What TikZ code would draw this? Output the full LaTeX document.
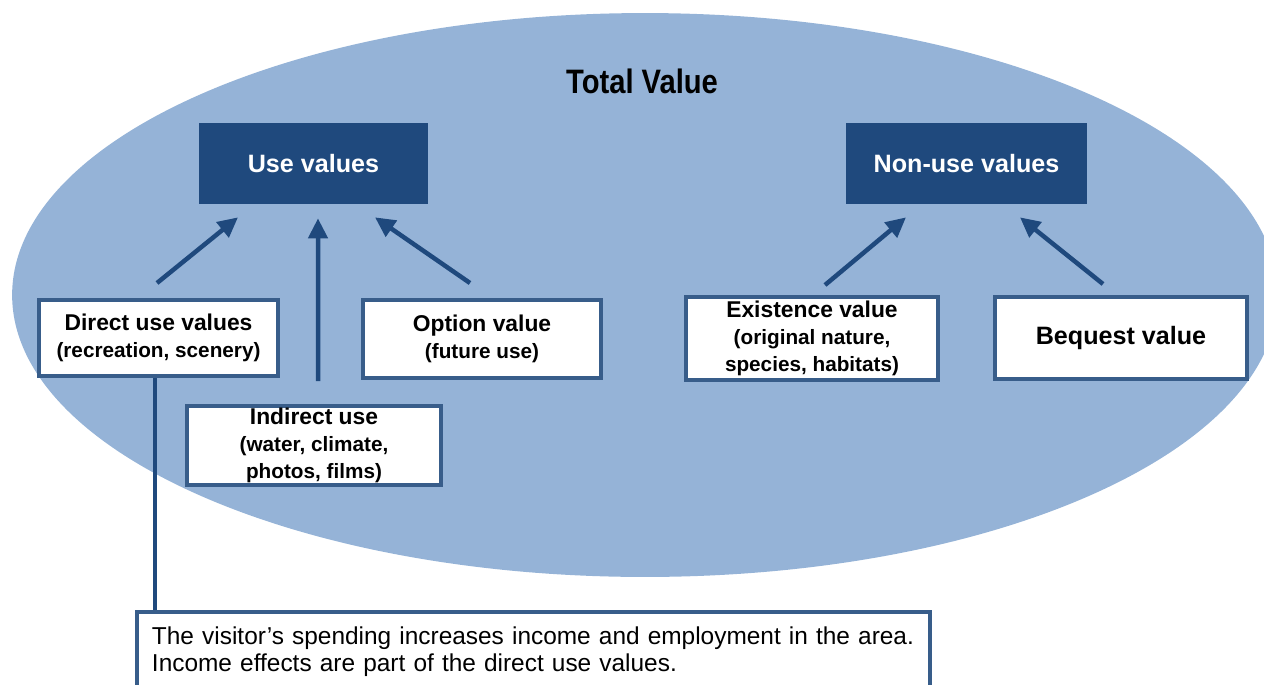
\documentclass[tikz,border=0pt]{standalone}
\usepackage{fontspec}
\setmainfont{Liberation Sans}
\newfontfamily\narrowfont[FakeStretch=0.86]{Liberation Sans}
\usepackage{tikz}
\usetikzlibrary{shapes.geometric, arrows.meta, positioning, calc}

\definecolor{ellblue}{HTML}{95B3D7}
\definecolor{darkblue}{HTML}{1F497D}
\definecolor{boxline}{HTML}{385D8A}

\begin{document}
\begin{tikzpicture}[
  x=0.02cm, y=-0.02cm,
  outer/.style={ellipse, fill=ellblue, inner sep=0pt},
  header/.style={rectangle, fill=darkblue, text=white, inner sep=0pt, font=\fontsize{14.3}{16}\selectfont\bfseries},
  valuebox/.style={rectangle, draw=boxline, line width=0.08cm, fill=white, inner sep=0pt, align=center, font=\fontsize{13}{15.3}\selectfont\bfseries},
  notebox/.style={rectangle, draw=boxline, line width=0.08cm, fill=white, inner xsep=0.3cm, inner ysep=0.3cm, text width=15.26cm, align=left, text depth=1cm, font=\fontsize{13.9}{15.3}\selectfont},
  arrow/.style={-{Triangle[length=0.4cm, width=0.38cm]}, line width=0.09cm, darkblue},
  link/.style={line width=0.08cm, darkblue}
]
\useasboundingbox (0,0) rectangle (1264,684);
\clip (0,0) rectangle (1264,684);

\node[outer, minimum width=25.32cm, minimum height=11.28cm] (total) at (645,295) {};
\node[font=\narrowfont\bfseries\fontsize{19.3}{22}\selectfont] (title) at (642,81) {Total Value};

% headers
\node[header, minimum width=4.58cm, minimum height=1.62cm] (use) at (313.5,163.5) {Use values};
\node[header, minimum width=4.82cm, minimum height=1.62cm] (nonuse) at (966.5,163.5) {Non-use values};

% use values
\node[valuebox, minimum width=4.78cm, minimum height=1.52cm] (direct) at (158.5,338)
  {Direct use values\\{\fontsize{11.8}{15.3}\selectfont (recreation, scenery)}};
\node[valuebox, minimum width=4.76cm, minimum height=1.56cm] (option) at (482,339)
  {Option value\\{\fontsize{11.8}{15.3}\selectfont (future use)}};
\node[valuebox, minimum width=5.08cm, minimum height=1.58cm] (indirect) at (314,445.5)
  {Indirect use\\{\fontsize{11.8}{15.3}\selectfont (water, climate,}\\{\fontsize{11.8}{15.3}\selectfont photos, films)}};

% non-use values
\node[valuebox, minimum width=5.04cm, minimum height=1.66cm] (exist) at (812,338.5)
  {Existence value\\{\fontsize{11.8}{15.3}\selectfont (original nature,}\\{\fontsize{11.8}{15.3}\selectfont species, habitats)}};
\node[valuebox, minimum width=5.04cm, minimum height=1.64cm, font=\fontsize{14.3}{16}\selectfont\bfseries] (bequest) at (1121,338) {Bequest value};

% note
\node[notebox, anchor=north west] (note) at (135,610)
  {The visitor’s spending increases income and employment in the area.\\Income effects are part of the direct use values.};

\draw[arrow] ($(direct.north)+(-1.5,-15)$) -- ($(use.south)+(-75.5,13)$);
\draw[arrow] ($(indirect.north)+(4,-23)$) -- ($(use.south)+(4.5,14)$);
\draw[arrow] ($(option.north)+(-12,-15)$) -- ($(use.south)+(61.5,13)$);
\draw[arrow] ($(exist.north)+(13,-10)$) -- ($(nonuse.south)+(-60.5,13)$);
\draw[arrow] ($(bequest.north)+(-18,-11)$) -- ($(nonuse.south)+(53.5,13)$);

\coordinate (dlink) at ($(direct.south)+(-3.5,0)$);
\draw[link] (dlink) -- (dlink |- note.north);

\end{tikzpicture}
\end{document}
